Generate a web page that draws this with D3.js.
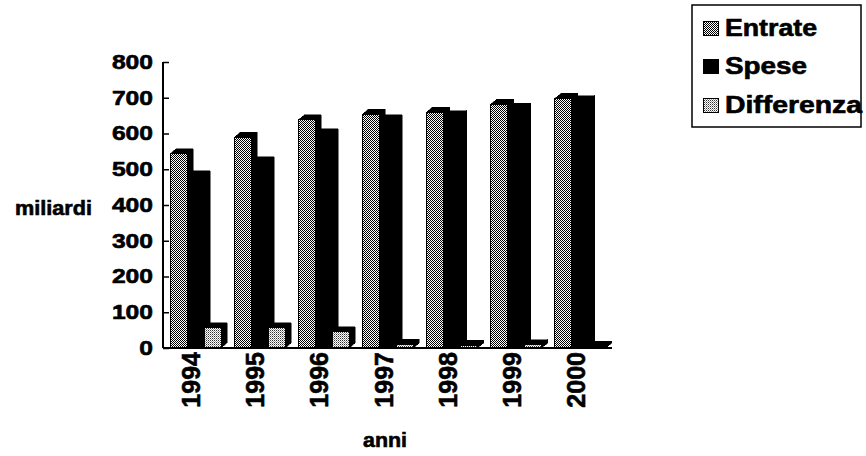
<!DOCTYPE html>
<html>
<head>
<meta charset="utf-8">
<script src="https://cdn.jsdelivr.net/npm/d3@7"></script>
<style>
  html, body { margin: 0; padding: 0; background: #fff; }
  svg { display: block; }
  text { font-family: "Liberation Sans", Arial, sans-serif; font-weight: bold; fill: #000; stroke: #000; stroke-width: 0.6px; }
</style>
</head>
<body>
<svg id="chart" width="866" height="456"></svg>
<script>
// ---- data ----
const years = ["1994", "1995", "1996", "1997", "1998", "1999", "2000"];
const seriesNames = ["Entrate", "Spese", "Differenza"];
const entrate = [543, 589, 638, 654, 660, 682, 698];
const spese = [482, 521, 599, 638, 650, 671, 692];
const differenza = [56, 56, 45, 10, 8, 9, 5];
const yTicks = [0, 100, 200, 300, 400, 500, 600, 700, 800];
const yTitle = "miliardi";
const xTitle = "anni";

const seriesValues = [entrate, spese, differenza];

const svg = d3.select("#chart");
const defs = svg.append("defs");

// dither patterns
const p1 = defs.append("pattern").attr("id", "patEntrate")
  .attr("patternUnits", "userSpaceOnUse").attr("width", 2).attr("height", 2);
p1.append("rect").attr("width", 2).attr("height", 2).attr("fill", "#fff");
p1.append("rect").attr("x", 0).attr("y", 0).attr("width", 1).attr("height", 1).attr("fill", "#000");
p1.append("rect").attr("x", 1).attr("y", 1).attr("width", 1).attr("height", 1).attr("fill", "#000");

const p2 = defs.append("pattern").attr("id", "patDiff")
  .attr("patternUnits", "userSpaceOnUse").attr("width", 2).attr("height", 2);
p2.append("rect").attr("width", 2).attr("height", 2).attr("fill", "#fff");
p2.append("rect").attr("x", 0).attr("y", 0).attr("width", 1).attr("height", 1).attr("fill", "#333");
p2.append("rect").attr("x", 1).attr("y", 1).attr("width", 1).attr("height", 1).attr("fill", "#999");

const fills = ["url(#patEntrate)", "#000", "url(#patDiff)"];

// scales
const x0 = d3.scaleBand().domain(years).range([163, 612]).padding(0);
const x1 = d3.scaleBand().domain(seriesNames).range([7, 58]).padding(0);
const y = d3.scaleLinear().domain([0, 800]).range([348, 62]);

const dx = 6, dy = 5;

// bars (3D)
const g = svg.append("g").attr("shape-rendering", "crispEdges");
years.forEach((yr, i) => {
  seriesNames.forEach((s, j) => {
    const v = seriesValues[j][i];
    const bx = x0(yr) + x1(s);
    const w = x1.bandwidth();
    const top = y(v);
    const base = y(0);
    // side
    g.append("path")
      .attr("d", `M${bx + w},${top} L${bx + w + dx},${top - dy} L${bx + w + dx},${base - dy} L${bx + w},${base} Z`)
      .attr("fill", "#000").attr("stroke", "#000").attr("stroke-width", 0.5);
    // top cap
    g.append("path")
      .attr("d", `M${bx},${top} L${bx + dx},${top - dy} L${bx + w + dx},${top - dy} L${bx + w},${top} Z`)
      .attr("fill", "#000").attr("stroke", "#000").attr("stroke-width", 0.5);
    // front
    g.append("rect")
      .attr("x", bx).attr("y", top).attr("width", w).attr("height", base - top)
      .attr("fill", fills[j]).attr("stroke", "#000").attr("stroke-width", 1);
  });
});

// y axis
const yAxis = d3.axisLeft(y).tickValues(yTicks).tickSize(-6).tickPadding(10).tickFormat(d3.format("d"));
const ya = svg.append("g").attr("transform", "translate(163,0)").call(yAxis);
ya.select(".domain").attr("stroke", "#000").attr("stroke-width", 2).attr("d", `M0,${y(800)}V${y(0)}`);
ya.selectAll(".tick line").attr("stroke", "#000").attr("stroke-width", 1.5);
ya.selectAll(".tick text")
  .style("font-family", "'Liberation Sans', Arial, sans-serif")
  .style("font-weight", "bold")
  .attr("font-size", 20)
  .attr("x", -10)
  .attr("textLength", d => String(d).length * 13.7)
  .attr("lengthAdjust", "spacingAndGlyphs")
  .attr("fill", "#000");

// x axis
const xAxis = d3.axisBottom(x0).tickSize(0).tickPadding(0);
const xa = svg.append("g").attr("transform", `translate(0,${y(0)})`).call(xAxis);
xa.select(".domain").attr("stroke", "#000").attr("stroke-width", 2).attr("d", `M163,0H612`);
xa.selectAll(".tick text")
  .style("font-family", "'Liberation Sans', Arial, sans-serif")
  .style("font-weight", "bold")
  .attr("font-size", 25)
  .attr("transform", "rotate(-90)")
  .attr("text-anchor", "end")
  .attr("x", -4).attr("y", 5).attr("dy", 0)
  .attr("fill", "#000");

// axis titles
svg.append("text").attr("x", 15).attr("y", 215).attr("font-size", 20)
  .attr("textLength", 77).attr("lengthAdjust", "spacingAndGlyphs").text(yTitle);
svg.append("text").attr("x", 363).attr("y", 447).attr("font-size", 21)
  .attr("textLength", 44).attr("lengthAdjust", "spacingAndGlyphs").text(xTitle);

// legend
const lg = svg.append("g");
lg.append("rect").attr("x", 692).attr("y", 5).attr("width", 169).attr("height", 122)
  .attr("fill", "#fff").attr("stroke", "#000").attr("stroke-width", 1.5);
const legendLens = [92, 82, 137];
const legendBase = [36, 74, 113];
seriesNames.forEach((s, j) => {
  lg.append("rect").attr("x", 703).attr("y", legendBase[j] - 15).attr("width", 15).attr("height", 14)
    .attr("fill", fills[j]).attr("stroke", "#000").attr("stroke-width", 1)
    .attr("shape-rendering", "crispEdges");
  lg.append("text").attr("x", 725).attr("y", legendBase[j]).attr("font-size", 23)
    .attr("textLength", legendLens[j]).attr("lengthAdjust", "spacingAndGlyphs").text(s);
});
</script>
</body>
</html>
